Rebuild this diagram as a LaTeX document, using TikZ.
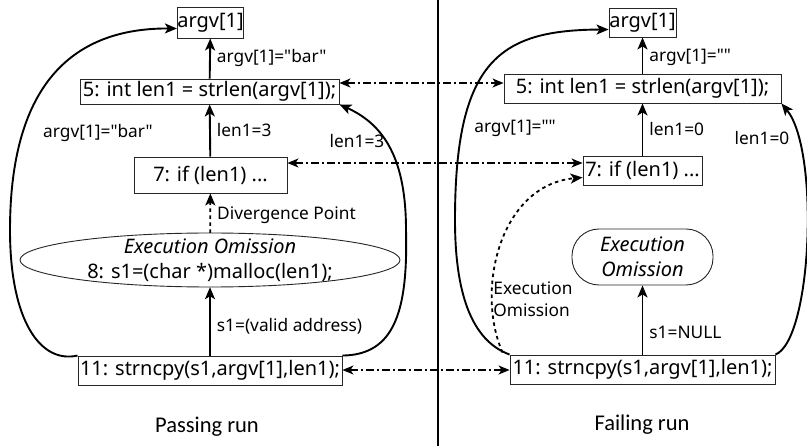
\documentclass[tikz,border=0pt]{standalone}
\usepackage{fontspec}
\setmainfont{Noto Sans}[Ligatures=TeXOff]
\newfontfamily\capfont{Carlito}
\usetikzlibrary{arrows.meta,calc}
\begin{document}
\begin{tikzpicture}[x=1pt,y=-1pt,
  font=\fontsize{20}{25}\selectfont,
  box/.style={draw=black!85, line width=0.9pt, inner sep=0pt},
  flow/.style={line width=1.9pt, -{Stealth[length=12pt,width=10pt,inset=3pt]}},
  dd/.style={line width=1.3pt, dash pattern=on 8pt off 3pt on 2pt off 3pt, {Stealth[length=11pt,width=9pt,inset=3pt]}-{Stealth[length=11pt,width=9pt,inset=3pt]}},
  dot/.style={line width=1.8pt, dash pattern=on 3.5pt off 3.5pt, -{Stealth[length=12pt,width=10pt,inset=3pt]}},
  lbl/.style={inner sep=3pt, font=\fontsize{17.3}{21.5}\selectfont},
  rlbl/.style={lbl, right, xshift=3pt},
  runcap/.style={font=\capfont\fontsize{22.5}{26}\selectfont}]
\useasboundingbox (0,0) rectangle (807,446);
% separator
\draw[line width=1.5pt] (438,0) -- (438,446);
% left nodes
\node[box, minimum width=65pt, minimum height=31pt] (la) at (210.5,22.5) {argv[1]};
\node[box, minimum width=259pt, minimum height=25pt] (l5) at (209.5,91.5) {5: int len1 = strlen(argv[1]);};
\node[box, minimum width=153pt, minimum height=36pt] (l7) at (210.5,175) {7: if (len1) ...};
\node[inner sep=0pt, minimum height=54pt, align=center] (le) at (210,260) {\textit{Execution Omission}\\8: s1=(char *)malloc(len1);};
\draw[draw=black!85, line width=0.9pt] (le.center) ellipse [x radius=190, y radius=27];
\node[box, minimum width=264pt, minimum height=29pt] (l11) at (210,370.5) {11: strncpy(s1,argv[1],len1);};
\node[runcap] (lt) at (207,427) {Passing run};
% right nodes
\node[box, minimum width=67pt, minimum height=29pt] (ra) at (642.5,22.5) {argv[1]};
\node[box, minimum width=277pt, minimum height=29pt] (r5) at (642.5,88.5) {5: int len1 = strlen(argv[1]);};
\node[box, minimum width=119pt, minimum height=29pt] (r7) at (642.5,170.5) {7: if (len1) ...};
\node[box, rounded corners=27pt, minimum width=141pt, minimum height=56pt, align=center] (re) at (642.5,257) {\textit{Execution}\\\textit{Omission}};
\node[box, minimum width=265pt, minimum height=29pt] (r11) at (642.5,369.5) {11: strncpy(s1,argv[1],len1);};
\node[runcap] (rt) at (642,425) {Failing run};
% left arrows
\draw[flow] (l5) -- node[rlbl, pos=0.5] {argv[1]="bar"} (la);
\draw[flow] (l7) -- node[rlbl] {len1=3} (l5);
\draw[dot] (le) -- node[rlbl, pos=0.45] {Divergence Point} (l7);
\draw[flow] (l11) -- node[rlbl, pos=0.43] {s1=(valid address)} (le);
\draw[flow] (l11.north west) .. controls (40,364) and (10,320) .. (10,230)
   .. controls (10,100) and (60,28) .. ([yshift=-6pt]la.west);
\node[lbl] (ll1) at (98,133) {argv[1]="bar"};
\draw[flow] (l11.north east) .. controls (395,355) and (408,310) .. (406,230)
   .. controls (406,160) and (385,125) .. (l5.south east);
\node[lbl] (ll2) at (357,141) {len1=3};
% right arrows
\draw[flow] (r5) -- node[rlbl, pos=0.45] {argv[1]=""} (ra);
\draw[flow] (r7) -- node[rlbl] {len1=0} (r5);
\draw[flow] (r11) -- node[rlbl, pos=0.32] {s1=NULL} (re);
\draw[flow] (r11.north west) .. controls (470,340) and (455,290) .. (455,220)
   .. controls (455,60) and (500,30) .. ([yshift=-7pt]ra.west);
\node[lbl] (rl1) at (515,128) {argv[1]=""};
\draw[flow] (r11.north east) .. controls (812,340) and (820,150) .. (r5.south east);
\node[lbl] (rl2) at (762,138) {len1=0};
\draw[dot] ([xshift=-7pt,yshift=2pt]r11.north west) .. controls (475,290) and (500,185) .. ([yshift=-7pt]r7.west);
\node[lbl, align=left] (rl3) at (533,299) {Execution\\Omission};
% cross links
\draw[dd] ([yshift=8.5pt]l5.east) -- ([yshift=5.5pt]r5.west);
\draw[dd] ([yshift=12pt]l7.east) -- ([yshift=7.5pt]r7.west);
\draw[dd] ([yshift=0.5pt]l11.east) -- ([yshift=-0.5pt]r11.west);
\end{tikzpicture}
\end{document}
